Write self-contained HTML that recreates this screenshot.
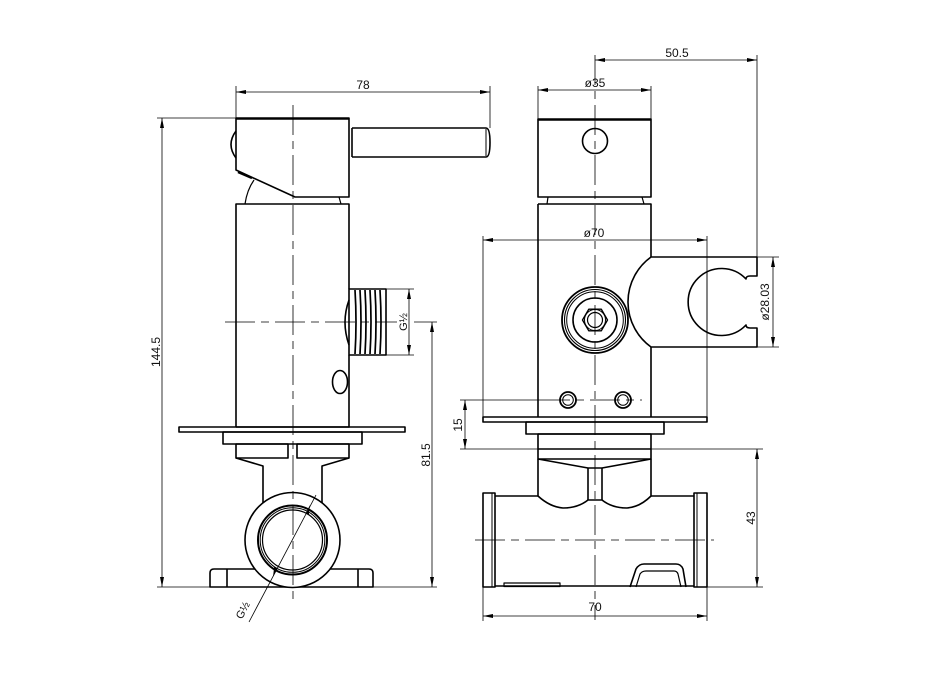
<!DOCTYPE html>
<html><head><meta charset="utf-8"><style>
html,body{margin:0;padding:0;background:#fff;}
svg{display:block;}
text{font-family:"Liberation Sans",sans-serif;font-size:12px;fill:#111;}
</style></head><body>
<svg width="932" height="692" viewBox="0 0 932 692" xmlns="http://www.w3.org/2000/svg">
<defs>
<marker id="a" viewBox="0 0 10 4" refX="10" refY="2" markerWidth="10" markerHeight="4" markerUnits="userSpaceOnUse" orient="auto-start-reverse"><path d="M0,0 L10,2 L0,4 z" fill="#000"/></marker>
</defs>
<rect width="932" height="692" fill="#fff"/>

<!-- ============ LEFT VIEW ============ -->
<g fill="none" stroke="#000" stroke-width="0.8">
  <line x1="236" y1="86" x2="236" y2="118"/>
  <line x1="490" y1="86" x2="490" y2="128"/>
  <line x1="236" y1="92" x2="490" y2="92" marker-start="url(#a)" marker-end="url(#a)"/>
  <line x1="157" y1="118" x2="236" y2="118"/>
  <line x1="157" y1="587" x2="437" y2="587"/>
  <line x1="162" y1="118" x2="162" y2="587" marker-start="url(#a)" marker-end="url(#a)"/>
  <line x1="414" y1="322" x2="437" y2="322"/>
  <line x1="432" y1="322" x2="432" y2="587" marker-start="url(#a)" marker-end="url(#a)"/>
  <line x1="386" y1="289" x2="414" y2="289"/>
  <line x1="386" y1="355" x2="414" y2="355"/>
  <line x1="409" y1="289" x2="409" y2="355" marker-start="url(#a)" marker-end="url(#a)"/>
</g>
<text x="363" y="89" text-anchor="middle">78</text>
<text transform="translate(160,352) rotate(-90)" text-anchor="middle">144.5</text>
<text transform="translate(430,455) rotate(-90)" text-anchor="middle">81.5</text>
<text transform="translate(407,322) rotate(-90)" text-anchor="middle" style="font-size:11px">G½</text>

<g fill="none" stroke="#000" stroke-width="1.6" stroke-linejoin="round">
  <!-- handle -->
  <path d="M236,118 L349,118 L349,197 L295,197 L236,170 Z"/>
  <line x1="236" y1="118.6" x2="349" y2="118.6" stroke-width="2.2"/>
  <path d="M236,131 Q226,144.5 236,158"/>
  <path d="M352,128 L486,128 Q490,128 490,142.5 Q490,157 486,157 L352,157"/>
  <line x1="352" y1="128" x2="352" y2="157"/>
  <line x1="486" y1="129" x2="486" y2="156" stroke-width="1"/>
  <path d="M245,204 Q247,190 254,180" stroke-width="1.2"/>
  <path d="M341,204 L339,197" stroke-width="1.2"/>
  <line x1="238" y1="172" x2="252" y2="178" stroke-width="2.4"/>
  <!-- body -->
  <path d="M236,427 L236,204 L349,204 L349,289"/>
  <path d="M349,355 L349,427 L236,427"/>
  <!-- thread -->
  <path d="M349,300 Q341,322 349,345"/>
  <rect x="349" y="289" width="37" height="66"/>
  <g stroke-width="1.7">
    <path d="M355,290 Q357,322 355,354"/>
    <path d="M360,290 Q362,322 360,354"/>
    <path d="M365,290 Q367,322 365,354"/>
    <path d="M370,290 Q372,322 370,354"/>
    <path d="M375,290 Q377,322 375,354"/>
    <path d="M380,290 Q382,322 380,354"/>
  </g>
  <ellipse cx="340" cy="382" rx="7.5" ry="11.5"/>
  <!-- flange etc -->
  <rect x="179" y="427" width="226" height="5"/>
  <rect x="223" y="432" width="139" height="12"/>
  <path d="M236,444 L288,444 L288,458 L236,458 Z"/>
  <path d="M297,444 L349,444 L349,458 L297,458 Z"/>
  <path d="M236,458 L263,466 L263,505"/>
  <path d="M349,458 L322,466 L322,505"/>
  <!-- base plate -->
  <path d="M210,587 L210,573 Q210,569 214,569 L369,569 Q373,569 373,573 L373,587 Z"/>
  <line x1="227" y1="569" x2="227" y2="587"/>
  <line x1="358" y1="569" x2="358" y2="587"/>
  <!-- pipe circle -->
  <circle cx="292.5" cy="540" r="47.5" fill="#fff"/>
  <circle cx="292.5" cy="540" r="34.5" stroke-width="2"/>
  <circle cx="292.5" cy="540" r="32.3" stroke-width="1"/>
  <circle cx="292.5" cy="540" r="30" stroke-width="1.2"/>
</g>
<g fill="none" stroke="#000" stroke-width="0.8" stroke-dasharray="30 6 8 6">
  <line x1="293" y1="105" x2="293" y2="600"/>
  <line x1="225" y1="322" x2="397" y2="322"/>
</g>
<g stroke="#000" stroke-width="0.8" fill="none">
  <line x1="316" y1="495" x2="249" y2="622"/>
</g>
<polygon points="310,505 305.5,513.5 308.8,515.2" fill="#000"/>
<polygon points="273,577 277.5,568.5 274.2,566.8" fill="#000"/>
<text transform="translate(246,612) rotate(-62)" text-anchor="middle" style="font-size:11px">G½</text>

<!-- ============ RIGHT VIEW ============ -->
<g fill="none" stroke="#000" stroke-width="0.8">
  <line x1="757" y1="55" x2="757" y2="257"/>
  <line x1="595" y1="60" x2="757" y2="60" marker-start="url(#a)" marker-end="url(#a)"/>
  <line x1="538" y1="86" x2="538" y2="119"/>
  <line x1="651" y1="86" x2="651" y2="119"/>
  <line x1="538" y1="90" x2="651" y2="90" marker-start="url(#a)" marker-end="url(#a)"/>
  <line x1="483" y1="236" x2="483" y2="417"/>
  <line x1="707" y1="236" x2="707" y2="417"/>
  <line x1="483" y1="240" x2="707" y2="240" marker-start="url(#a)" marker-end="url(#a)"/>
  <line x1="757" y1="257" x2="779" y2="257"/>
  <line x1="757" y1="347" x2="779" y2="347"/>
  <line x1="773" y1="257" x2="773" y2="347" marker-start="url(#a)" marker-end="url(#a)"/>
  <line x1="460" y1="400" x2="540" y2="400"/>
  <line x1="460" y1="449" x2="538" y2="449"/>
  <line x1="465" y1="400" x2="465" y2="449" marker-start="url(#a)" marker-end="url(#a)"/>
  <line x1="651" y1="449" x2="763" y2="449"/>
  <line x1="707" y1="587" x2="763" y2="587"/>
  <line x1="757" y1="449" x2="757" y2="587" marker-start="url(#a)" marker-end="url(#a)"/>
  <line x1="483" y1="587" x2="483" y2="621"/>
  <line x1="707" y1="587" x2="707" y2="621"/>
  <line x1="483" y1="616" x2="707" y2="616" marker-start="url(#a)" marker-end="url(#a)"/>
</g>
<text x="677" y="57" text-anchor="middle">50.5</text>
<text x="595" y="87" text-anchor="middle">ø35</text>
<text x="594" y="237" text-anchor="middle">ø70</text>
<text transform="translate(769,302) rotate(-90)" text-anchor="middle">ø28.03</text>
<text transform="translate(462,425) rotate(-90)" text-anchor="middle">15</text>
<text transform="translate(755,518) rotate(-90)" text-anchor="middle">43</text>
<text x="595" y="611" text-anchor="middle">70</text>

<g fill="none" stroke="#000" stroke-width="1.6" stroke-linejoin="round">
  <rect x="538" y="119" width="113" height="78"/>
  <line x1="538" y1="119.6" x2="651" y2="119.6" stroke-width="2.2"/>
  <circle cx="595" cy="141" r="12.5"/>
  <path d="M548,197 L547,204 M642,197 L644,204" stroke-width="1.2"/>
  <path d="M538,204 L651,204 L651,257 M651,347 L651,417 M538,204 L538,417"/>
  <path d="M651,257 L757,257 L757,276 L750,276 Q746,276 746,279 A33.5,33.5 0 1 0 746,325 Q746,328 750,328 L757,328 L757,347 L651,347 A55.5,55.5 0 0 1 651,257 Z" fill="#fff"/>
  <circle cx="595" cy="320" r="33" stroke-width="1.8"/>
  <circle cx="595" cy="320" r="30.5" stroke-width="1.1"/>
  <circle cx="595" cy="320" r="28.3" stroke-width="1"/>
  <circle cx="595" cy="320" r="22" stroke-width="1.6"/>
  <polygon points="607.5,320 601.3,330.8 588.8,330.8 582.5,320 588.8,309.2 601.3,309.2" stroke-width="1.4"/>
  <circle cx="595" cy="320" r="10.5" stroke-width="1"/>
  <circle cx="595" cy="320" r="7.5" stroke-width="1.2"/>
  <circle cx="568" cy="400" r="8" stroke-width="1.8"/>
  <circle cx="568" cy="400" r="5.3" stroke-width="1"/>
  <circle cx="623" cy="400" r="8" stroke-width="1.8"/>
  <circle cx="623" cy="400" r="5.3" stroke-width="1"/>
  <rect x="483" y="417" width="224" height="5"/>
  <rect x="526" y="422" width="138" height="12"/>
  <rect x="538" y="434" width="113" height="25"/>
  <line x1="538" y1="449" x2="651" y2="449"/>
  <path d="M538,459 L538,496 Q550,507 563,508 Q578,508 588,500 L602,500 Q612,508 627,508 Q640,507 651,496 L651,459"/>
  <path d="M538,459 L588,468 L602,468 L651,459"/>
  <line x1="588" y1="468" x2="588" y2="500"/>
  <line x1="602" y1="468" x2="602" y2="500"/>
  <path d="M495,496 L538,496 M651,496 L694,496 M495,586 L694,586"/>
  <rect x="483" y="493" width="12" height="94"/>
  <line x1="492" y1="493" x2="492" y2="587" stroke-width="1"/>
  <rect x="694" y="493" width="13" height="94"/>
  <line x1="697" y1="493" x2="697" y2="587" stroke-width="1"/>
  <rect x="504" y="583" width="56" height="3.5" stroke-width="1.2"/>
  <path d="M630,587 L636,569 Q639,564 644,564 L676,564 Q681,564 683,569 L686,587"/>
  <path d="M636,587 L640,574 Q642,571 646,571 L674,571 Q677,571 678,574 L681,587" stroke-width="1.2"/>
</g>
<g stroke="#000" stroke-width="0.8">
  <line x1="707" y1="257" x2="707" y2="347"/>
</g>
<g fill="none" stroke="#000" stroke-width="0.8" stroke-dasharray="30 6 8 6">
  <line x1="595" y1="55" x2="595" y2="620"/>
  <line x1="540" y1="400" x2="642" y2="400"/>
  <line x1="475" y1="540" x2="714" y2="540"/>
</g>
</svg>
</body></html>
